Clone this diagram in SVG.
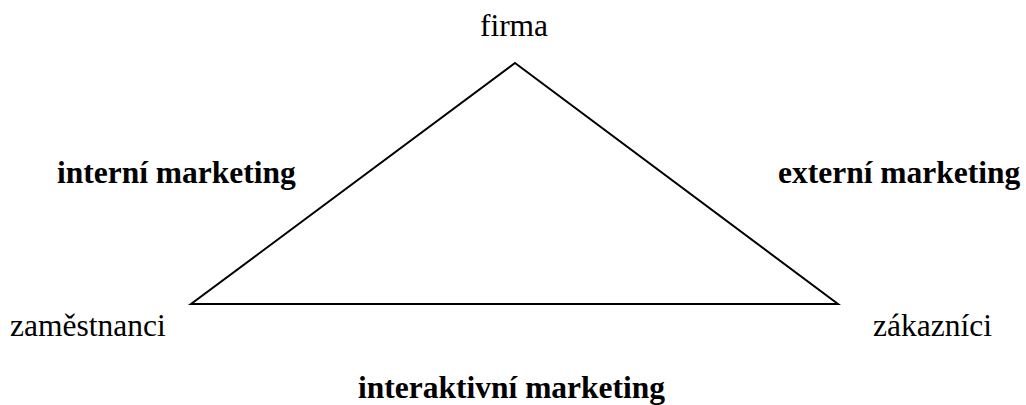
<svg xmlns="http://www.w3.org/2000/svg" width="1026" height="405" viewBox="0 0 1026 405">
  <style>
    .lbl { font-family: "Liberation Serif", "Times New Roman", serif; font-size: 31.5px; fill: #000; }
    .bold { font-weight: bold; }
    .edge { fill: none; stroke: #000; stroke-width: 2; stroke-linejoin: miter; }
  </style>
  <rect width="1026" height="405" fill="#fff"/>
  <g id="connectors">
    <polygon class="edge" points="515,63 838,304 191,304"/>
  </g>
  <g id="firma"><text class="lbl" x="514" y="36" text-anchor="middle">firma</text></g>
  <g id="zamestnanci"><text class="lbl" x="10" y="336">zaměstnanci</text></g>
  <g id="zakaznici"><text class="lbl" x="873" y="336">zákazníci</text></g>
  <g id="interni"><text class="lbl bold" x="57" y="183">interní marketing</text></g>
  <g id="externi"><text class="lbl bold" x="778" y="183">externí marketing</text></g>
  <g id="interaktivni"><text class="lbl bold" x="358" y="398">interaktivní marketing</text></g>
</svg>
